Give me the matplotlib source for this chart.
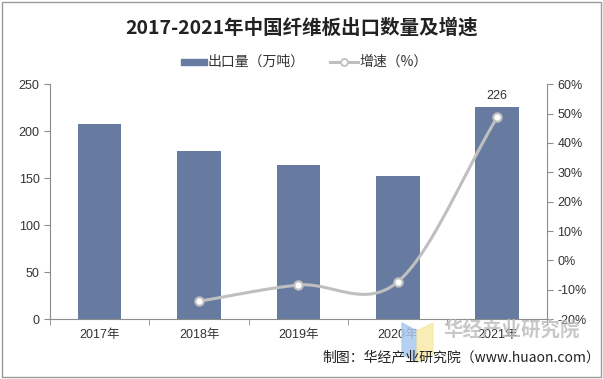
import numpy as np
import matplotlib
matplotlib.use("Agg")
import matplotlib.pyplot as plt
from matplotlib.patches import Rectangle, Polygon

plt.rcParams['font.family'] = ['Liberation Sans', 'Noto Sans CJK SC', 'DejaVu Sans']

years = ["2017年", "2018年", "2019年", "2020年", "2021年"]
volume = [208, 179, 164, 152, 226]
growth_years = [1, 2, 3, 4]
growth = [-13.9, -8.4, -7.3, 48.7]
left_ticks = [0, 50, 100, 150, 200, 250]
right_ticks = [-20, -10, 0, 10, 20, 30, 40, 50, 60]

bar_color = "#677BA0"
line_color = "#BFBFBF"
spine_color = "#8C8C8C"
text_color = "#333333"

fig = plt.figure(figsize=(6.03, 3.79), dpi=100)
ax = fig.add_axes([0.0829, 0.158, 0.824, 0.620])
x = np.arange(len(years))
ax.bar(x, volume, width=0.437, color=bar_color, zorder=2)
ax.set_xlim(-0.5, 4.5)
ax.set_ylim(0, 250)
ax.set_yticks(left_ticks)
ax.set_xticks(x)
ax.set_xticklabels(years)
ax.set_xticks(np.arange(-0.5, 5.0, 1.0), minor=True)
ax.tick_params(axis='x', which='major', length=0, labelsize=9, pad=7, labelcolor=text_color)
ax.tick_params(axis='x', which='minor', length=4, color=spine_color)
ax.tick_params(axis='y', length=4, color=spine_color, labelsize=9, labelcolor=text_color)
for s in ['top', 'right']:
    ax.spines[s].set_visible(False)
for s in ['left', 'bottom']:
    ax.spines[s].set_color(spine_color)
ax.text(x[-1], volume[-1] + 5, str(volume[-1]), ha='center', va='bottom', fontsize=9,
        color=text_color)

ax2 = ax.twinx()
ax2.set_ylim(-20, 60)
ax2.set_yticks(right_ticks)
ax2.set_yticklabels([f"{v}%" for v in right_ticks])
ax2.tick_params(axis='y', length=4, color=spine_color, labelsize=9, labelcolor=text_color)
for s in ['top', 'left', 'bottom']:
    ax2.spines[s].set_visible(False)
ax2.spines['right'].set_color(spine_color)

# Catmull-Rom smoothing through the data points
px = np.array(growth_years, dtype=float)
py = np.array(growth, dtype=float)
P = np.column_stack([px, py])
Pext = np.vstack([2 * P[0] - P[1], P, 2 * P[-1] - P[-2]])
curve = []
for i in range(1, len(Pext) - 2):
    p0, p1, p2, p3 = Pext[i - 1], Pext[i], Pext[i + 1], Pext[i + 2]
    t = np.linspace(0, 1, 40)[:, None]
    seg = 0.5 * ((2 * p1) + (-p0 + p2) * t + (2 * p0 - 5 * p1 + 4 * p2 - p3) * t ** 2
                 + (-p0 + 3 * p1 - 3 * p2 + p3) * t ** 3)
    curve.append(seg)
curve = np.vstack(curve)
ax2.plot(curve[:, 0], curve[:, 1], color=line_color, lw=2.2, zorder=3)
ax2.plot(px, py, 'o', ms=6, mfc='white', mec=line_color, mew=1.5, zorder=4)

fig.text(0.5, 0.926, "2017-2021年中国纤维板出口数量及增速", ha='center', va='center',
         fontsize=14, fontweight='bold', color="#222222",
         family=['Noto Sans CJK SC', 'DejaVu Sans'])

# legend
ly = 1 - 62 / 379
fig.patches.append(Rectangle((181 / 603, ly - 0.009), 26 / 603, 0.018,
                             transform=fig.transFigure, color=bar_color))
fig.text(208 / 603, ly, "出口量（万吨）", va='center', fontsize=10, color=text_color,
         family=['Noto Sans CJK SC', 'DejaVu Sans'])
fig.lines.append(plt.Line2D([330 / 603, 358 / 603], [ly, ly], transform=fig.transFigure,
                            color=line_color, lw=2.2))
fig.lines.append(plt.Line2D([344 / 603], [ly], transform=fig.transFigure, marker='o',
                            ms=5, mfc='white', mec=line_color, mew=1.3))
fig.text(359 / 603, ly, "增速（%）", va='center', fontsize=10, color=text_color,
         family=['Noto Sans CJK SC', 'DejaVu Sans'])

# watermark
def fx(px_):
    return px_ / 603

def fy(py_):
    return 1 - py_ / 379

fig.patches.append(Polygon([[fx(402), fy(323)], [fx(417), fy(331)], [fx(417), fy(362)],
                            [fx(402), fy(354)]],
                           closed=True, transform=fig.transFigure, color="#A9C8F0", alpha=0.85))
fig.patches.append(Polygon([[fx(417), fy(331)], [fx(433), fy(323)], [fx(433), fy(354)],
                            [fx(417), fy(362)]],
                           closed=True, transform=fig.transFigure, color="#F8E9A8", alpha=0.85))
fig.text(fx(512), fy(330), "华经产业研究院", ha='center', va='center', fontsize=14,
         fontweight='bold', color="#BBBBBB", alpha=0.8,
         family=['Noto Sans CJK SC', 'DejaVu Sans'])

fig.text(fx(322), fy(357), "制图：华经产业研究院（www.huaon.com）", ha='left', va='center',
         fontsize=10, color="#222222", family=['Noto Sans CJK SC', 'DejaVu Sans'])

fig.patches.append(Rectangle((0.004, 0.004), 0.992, 0.992, transform=fig.transFigure,
                             fill=False, edgecolor="#999999", lw=1))

fig.savefig("out.png", dpi=100)
